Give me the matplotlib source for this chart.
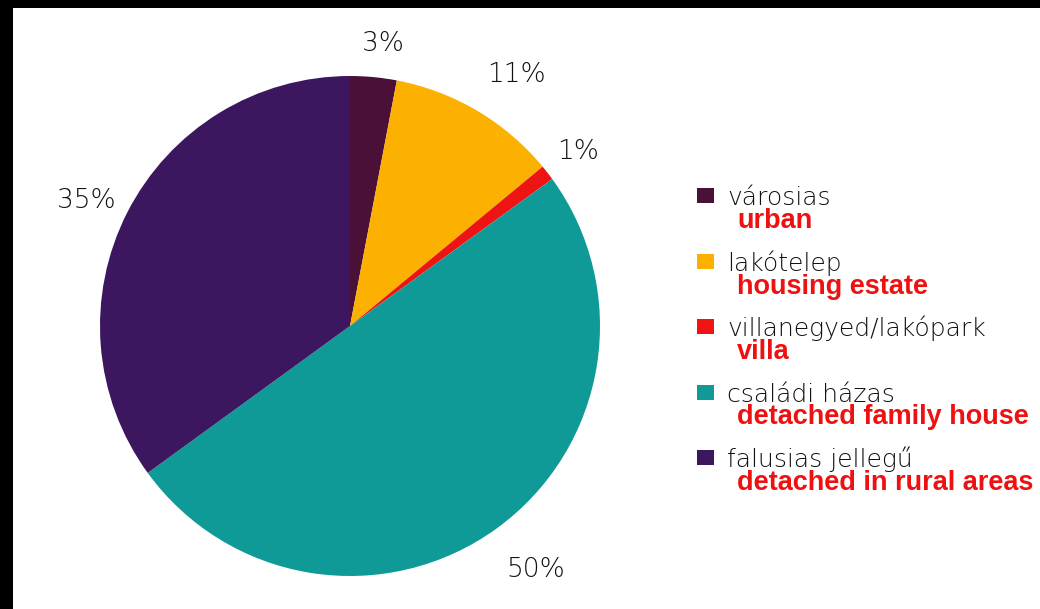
import matplotlib
matplotlib.use("Agg")
import matplotlib.pyplot as plt
from matplotlib.patches import Rectangle

# lakás típusok megoszlása
shares = [3, 11, 1, 50, 35]
names_hu = ["városias", "lakótelep", "villanegyed/lakópark", "családi házas", "falusias jellegű"]
names_en = ["urban", "housing estate", "villa", "detached family house", "detached in rural areas"]
colors = ["#4a1038", "#fcb000", "#ee1414", "#0f9a98", "#3c165e"]

W, H = 1040, 609
fig = plt.figure(figsize=(W / 100, H / 100), dpi=100)
fig.patch.set_facecolor("white")
ax = fig.add_axes([0, 0, 1, 1])

cx, cy, r = 350, H - 326, 250
wedges, texts = ax.pie(shares, colors=colors, startangle=90, counterclock=False,
                       center=(cx, cy), radius=r,
                       labels=[f"{v}%" for v in shares], labeldistance=1.15,
                       wedgeprops=dict(linewidth=0))
# kis eltolás a százalék feliratokon
nudge = [(6, -4), (20, 4), (1, -2), (17, -11), (-8, -5)]
for t, (dx, dy) in zip(texts, nudge):
    x, y = t.get_position()
    t.set_position((x + dx, y + dy))
    t.set_ha("center")
    t.set_va("center")
    t.set_fontsize(19)
    t.set_color("#111111")
    t.set_family("DejaVu Sans")
    t.set_weight("light")

ax.set_xlim(0, W)
ax.set_ylim(0, H)
ax.set_aspect("auto")
ax.axis("off")

# jelmagyarázat
top0, step = 188, 65.5
for i, (hu, en, c) in enumerate(zip(names_hu, names_en, colors)):
    top = top0 + i * step
    ax.add_patch(Rectangle((697, H - top - 15), 17, 15, color=c, lw=0))
    ax.text(727, H - top - 17, hu, fontsize=18, color="#111111",
            family="DejaVu Sans", weight="light", va="baseline", ha="left")
    ax.text(737, H - top - 40, en, fontsize=19.5, color="#ee1111",
            family="Liberation Sans", weight="bold", va="baseline", ha="left")

# fekete keret felül és balra
fig.patches.append(Rectangle((0, 1 - 8 / H), 1, 8 / H, transform=fig.transFigure,
                             color="black", lw=0))
fig.patches.append(Rectangle((0, 0), 13 / W, 1, transform=fig.transFigure,
                             color="black", lw=0))

fig.savefig("out.png", dpi=100)
